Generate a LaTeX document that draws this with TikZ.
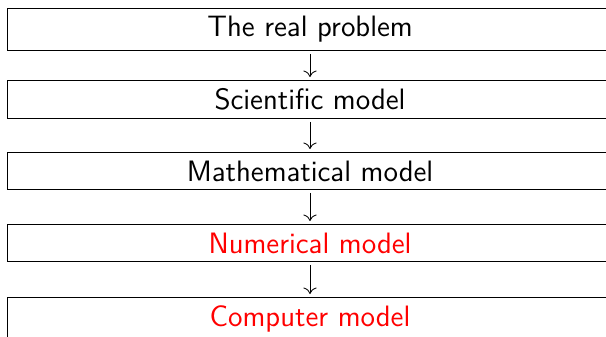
\documentclass[tikz,border=0pt]{standalone}
\usetikzlibrary{arrows.meta}
\begin{document}
\begin{tikzpicture}[x=0.5pt,y=-0.5pt,
  modelbox/.style={draw, line width=0.4pt, minimum width=302.5pt, anchor=north,
    inner xsep=0pt, inner ysep=4.1pt, font=\sffamily\fontsize{14.75}{17}\selectfont},
  redtext/.style={text=red},
  flow/.style={line width=0.42pt, -{To[length=3.2pt,width=6.6pt]}, shorten <=1.5pt, shorten >=1.5pt}]
\useasboundingbox (0,0) rectangle (606,337);
\node[modelbox] (b1) at (310,7.5) {The real problem};
\node[modelbox] (b2) at (310,80) {Scientific model};
\node[modelbox] (b3) at (310,152) {Mathematical model};
\node[modelbox,redtext] (b4) at (310,224) {Numerical model};
\node[modelbox,redtext] (b5) at (310,297) {Computer model};
\draw[flow] (b1.south) -- (b2.north);
\draw[flow] (b2.south) -- (b3.north);
\draw[flow] (b3.south) -- (b4.north);
\draw[flow] (b4.south) -- (b5.north);
\end{tikzpicture}
\end{document}
